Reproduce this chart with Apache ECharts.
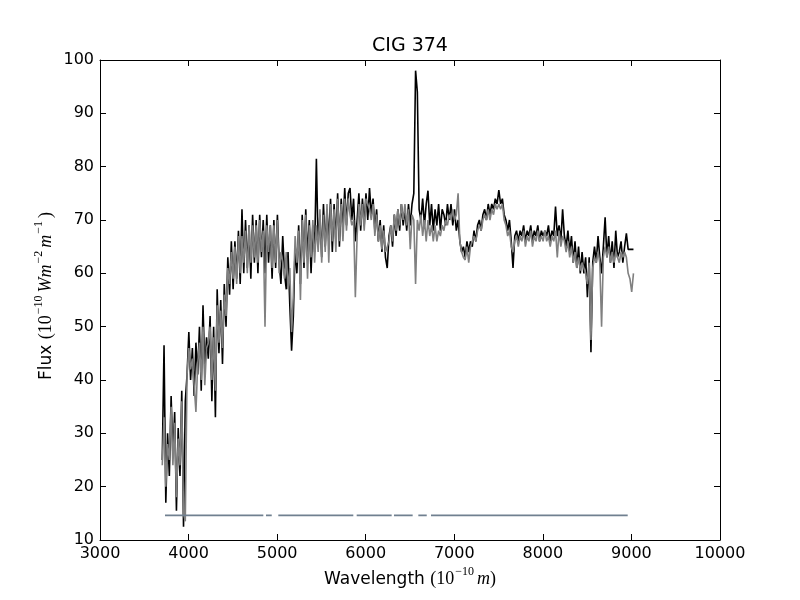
<!DOCTYPE html>
<html>
<head>
<meta charset="utf-8">
<title>CIG 374</title>
<script src="https://cdn.jsdelivr.net/npm/echarts@6/dist/echarts.min.js"></script>
<style>
  html, body { margin: 0; padding: 0; background: #fff; }
  #chart { width: 800px; height: 600px; }
</style>
</head>
<body>
<div id="chart"></div>
<script>
// wavelength grid of the spectra (Angstrom)
const waveStart = 3703;
const waveStep = 20;

// observed flux (black)
const fluxObserved = [
  25, 46.5, 17, 30, 22, 37, 26, 34, 15.5, 31,
  22, 38, 12.5, 36, 41, 49, 40, 46, 37, 47,
  41, 50, 38, 54, 42, 48, 44, 52, 36, 50,
  33, 57, 45, 55, 43, 58, 50, 63, 56, 66,
  57, 66, 59, 68, 58, 72, 60, 70, 61, 69,
  59, 71, 62, 70, 60, 71, 63, 70, 60, 71,
  62, 69, 59, 70, 61, 71, 62, 58, 67, 60,
  57, 64, 54, 45.5, 52, 65, 60, 69, 58, 71,
  61, 72, 63, 70, 60, 69, 64, 81.5, 65, 71,
  63, 73, 65, 72, 66, 74, 64, 73, 66, 75,
  65, 74, 68, 76, 69, 75, 76, 70, 74, 66,
  70, 75, 68, 74, 69, 75, 70, 76, 71, 74,
  68, 72, 66, 70, 64, 69, 63, 61, 67, 69,
  65, 71, 67, 72, 68, 73, 69, 72, 68, 73,
  69, 73, 75, 98, 94, 72, 70, 74, 69, 73,
  75.5, 69, 73, 68, 72, 69, 73, 68, 72, 71,
  69, 73, 70, 73, 69, 72, 68, 70, 66, 64,
  65, 63, 66, 64, 66, 65, 68, 66, 69, 70,
  68, 71, 72, 70, 73, 71, 73, 72, 74, 73,
  75.6, 73, 74, 71, 70, 68, 70, 66, 61, 67,
  68, 66, 68, 67, 69, 66, 68, 67, 69, 66,
  68, 67, 69, 66, 68, 67, 68, 67, 69, 66,
  68, 67, 72.5, 67, 69, 66, 72, 67, 65, 68,
  64, 67, 62, 66, 61, 65, 60, 64, 60, 63,
  55.5, 63, 45.2, 62, 65, 62, 67, 63, 60, 65,
  70.5, 63, 67, 62, 66, 61, 68, 63, 64, 66,
  62, 65, 67.5, 64.5, 64.5, 64.5, 64.5
];

// model / corrected flux (gray)
const fluxModel = [
  24, 33, 20, 28, 25, 35, 24, 32, 18, 29,
  24, 36, 15, 13.5, 41, 46, 42, 44, 39, 34,
  43, 47, 40, 50, 39, 46, 47, 50, 40, 48,
  38, 54, 47, 53, 46, 56, 52, 61, 58, 64,
  59, 65, 58, 67, 60, 67, 62, 68, 60, 69,
  62, 69, 63, 69, 62, 70, 64, 68, 50, 69,
  64, 69, 61, 69, 62, 70, 60, 64, 62, 59,
  64, 57, 61, 49, 56, 67, 62, 68, 55, 70,
  62, 71, 59, 69, 63, 70, 62, 69, 64, 72,
  62, 71, 64, 73, 62, 73, 66, 72, 64, 74,
  66, 73, 66, 74, 68, 74, 71, 69, 70, 55.5,
  67, 73, 69, 73, 68, 74, 73, 72, 70, 73,
  67, 71, 66, 69, 64.5, 68, 64, 65, 66, 69,
  66, 71, 68, 72, 69, 73, 70, 73, 69, 72,
  64.5, 71, 70, 58, 70, 68, 71, 67, 70, 66,
  70, 67, 69, 66, 69, 66, 68, 67, 69, 68,
  70, 69, 71, 70, 72, 70, 71, 75, 66, 64,
  63, 62.5, 65, 62, 65, 66, 67, 66, 68, 69,
  68, 70, 71, 70, 72, 70, 72, 71, 73, 72,
  73, 72, 73, 70, 69, 67, 68, 65, 64, 66,
  67, 65, 67, 66, 68, 65, 67, 66, 68, 65,
  67, 66, 68, 66, 67, 66, 68, 66, 67, 65,
  67, 66, 68, 63, 68, 65, 67, 66, 64, 66,
  63, 65, 62, 64, 61, 63, 60.5, 62, 61, 60,
  58, 62, 47.5, 61, 63, 62, 64, 62, 50, 63,
  65, 63, 65, 62, 64, 62, 64, 63, 62, 64,
  63, 64, 63, 60, 59, 56.5, 60
];

// masked-pixel indicator line: segments start/end (Angstrom) and level
const maskStart = [3734, 4874, 5013, 5898, 6319, 6594, 6737];
const maskEnd = [4844, 4939, 5860, 6293, 6530, 6689, 8958];
const maskLevel = 14.6;

const xTicks = { min: 3000, max: 10000, interval: 1000 };
const yTicks = { min: 10, max: 100, interval: 10 };

function pairs(values) {
  return values.map((v, i) => [waveStart + i * waveStep, v]);
}

let maskData = [];
maskStart.forEach((s, i) => {
  maskData.push([s, maskLevel]);
  maskData.push([maskEnd[i], maskLevel]);
  maskData.push([maskEnd[i], null]);
});

const sans = 'DejaVu Sans';
const serif = 'Liberation Serif';

const axisCommon = {
  type: 'value',
  splitLine: { show: false },
  axisLine: { show: true, onZero: false, lineStyle: { color: '#000', width: 1 } },
  axisTick: { show: true, inside: true, length: 6, lineStyle: { color: '#000', width: 1 } },
};

// mathtext-like rich styles for the axis names
const mathRich = {
  a: { fontFamily: sans, fontSize: 17, fill: '#000', verticalAlign: 'bottom', lineHeight: 22 },
  b: { fontFamily: serif, fontSize: 18, fill: '#000', verticalAlign: 'bottom', lineHeight: 22 },
  i: { fontFamily: serif, fontStyle: 'italic', fontSize: 18, fill: '#000', verticalAlign: 'bottom', lineHeight: 22 },
  s: { fontFamily: serif, fontSize: 12, fill: '#000', verticalAlign: 'top', lineHeight: 22, padding: [0, 3, 0, 1] }
};

let myChart = echarts.init(document.getElementById('chart'), null, { renderer: 'canvas' });
let option = {
  animation: false,
  backgroundColor: '#fff',
  grid: { left: 100, right: 80, top: 60, bottom: 60, containLabel: false },
  xAxis: [
    Object.assign({}, axisCommon, xTicks, {
      position: 'bottom',
      axisLabel: { color: '#000', fontFamily: sans, fontSize: 16, margin: 6, formatter: v => String(v) }
    }),
    Object.assign({}, axisCommon, xTicks, {
      position: 'top',
      axisLabel: { show: false }
    })
  ],
  yAxis: [
    Object.assign({}, axisCommon, yTicks, {
      position: 'left',
      axisLabel: { color: '#000', fontFamily: sans, fontSize: 16, margin: 6, formatter: v => String(v) }
    }),
    Object.assign({}, axisCommon, yTicks, {
      position: 'right',
      axisLabel: { show: false }
    })
  ],
  graphic: [
    {
      type: 'text', x: 410, y: 46,
      style: {
        text: 'CIG 374', fill: '#000', font: '19px "DejaVu Sans"',
        textAlign: 'center', textVerticalAlign: 'middle'
      }
    },
    {
      type: 'text', x: 410, y: 577,
      style: {
        text: '{a|Wavelength }{b|(10}{s|−10}{i|m}{b|)}',
        textAlign: 'center', textVerticalAlign: 'middle',
        rich: mathRich
      }
    },
    {
      type: 'text', x: 44, y: 296, rotation: Math.PI / 2,
      style: {
        text: '{a|Flux }{b|(10}{s|−10}{i|Wm}{s|−2}{i|m}{s|−1}{b|)}',
        textAlign: 'center', textVerticalAlign: 'middle',
        rich: mathRich
      }
    }
  ],
  series: [
    {
      name: 'observed',
      type: 'line',
      data: pairs(fluxObserved),
      showSymbol: false,
      symbol: 'none',
      lineStyle: { color: '#000', width: 1.6 },
      z: 2
    },
    {
      name: 'model',
      type: 'line',
      data: pairs(fluxModel),
      showSymbol: false,
      symbol: 'none',
      lineStyle: { color: '#808080', width: 1.6 },
      z: 3
    },
    {
      name: 'mask',
      type: 'line',
      data: maskData,
      showSymbol: false,
      symbol: 'none',
      connectNulls: false,
      lineStyle: { color: '#708090', width: 1.8 },
      z: 4
    }
  ]
};
myChart.setOption(option);
</script>
</body>
</html>
